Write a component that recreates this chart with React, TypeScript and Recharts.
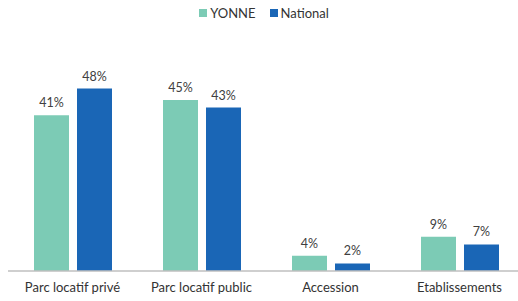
import React from "react";
import { BarChart, Bar, XAxis, YAxis, LabelList, Legend } from "recharts";

const categories = ["Parc locatif privé", "Parc locatif public", "Accession", "Etablissements"];
const yonne = [41, 45, 4, 9];
const national = [48, 43, 2, 7];

const TEAL = "#7ccbb5";
const BLUE = "#1a66b6";
const FONT = "Lato, 'Open Sans', sans-serif";

const data = categories.map((name, i) => ({
  name,
  yonne: yonne[i],
  national: national[i],
}));

const fmt = (v: number) => `${v}%`;

const LegendBox = () => (
  <div
    style={{
      display: "flex",
      justifyContent: "center",
      gap: 14,
      fontFamily: FONT,
      fontSize: 13,
      lineHeight: "20px",
      height: 20,
      color: "#333",
      paddingLeft: 2,
    }}
  >
    <span style={{ display: "flex", alignItems: "center" }}>
      <span style={{ width: 8, height: 8, background: TEAL, marginRight: 3 }} />
      YONNE
    </span>
    <span style={{ display: "flex", alignItems: "center" }}>
      <span style={{ width: 8, height: 8, background: BLUE, marginRight: 3 }} />
      National
    </span>
  </div>
);

export default function App() {
  return (
    <div
      style={{
        position: "absolute",
        top: 0,
        left: 8,
        width: 510,
        height: 301,
        overflow: "hidden",
      }}
    >
      <BarChart
        width={516}
        height={301}
        data={data}
        margin={{ top: 61, right: 0, bottom: 0, left: 0 }}
        barSize={35}
        barGap={8}
      >
        <Legend
          verticalAlign="top"
          height={20}
          content={<LegendBox />}
          wrapperStyle={{ top: 3, left: 0, width: 510, height: 20 }}
        />
        <XAxis
          dataKey="name"
          axisLine={{ stroke: "#bfbfbf", strokeWidth: 1.5 }}
          tickLine={false}
          tickMargin={6}
          height={30}
          interval={0}
          tick={{ fill: "#333", fontSize: 13, fontFamily: FONT }}
        />
        <YAxis hide domain={[0, 50]} />
        <Bar dataKey="yonne" fill={TEAL} isAnimationActive={false}>
          <LabelList
            dataKey="yonne"
            position="top"
            offset={8}
            formatter={fmt}
            style={{ fill: "#404040", fontSize: 12.5, fontFamily: FONT }}
          />
        </Bar>
        <Bar dataKey="national" fill={BLUE} isAnimationActive={false}>
          <LabelList
            dataKey="national"
            position="top"
            offset={8}
            formatter={fmt}
            style={{ fill: "#404040", fontSize: 12.5, fontFamily: FONT }}
          />
        </Bar>
      </BarChart>
    </div>
  );
}
